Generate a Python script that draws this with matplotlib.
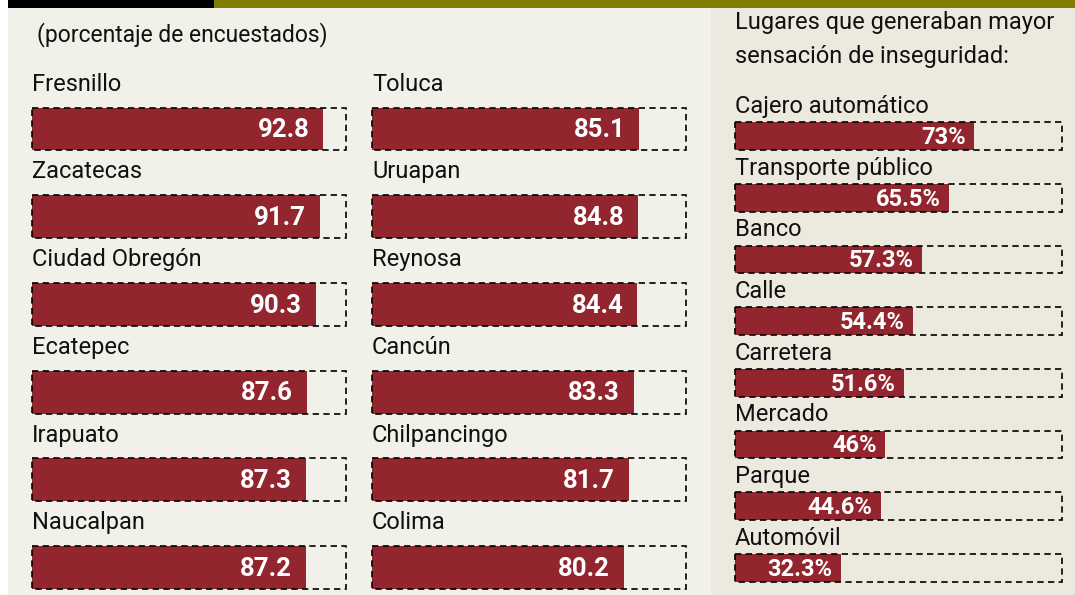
import matplotlib.pyplot as plt
import numpy as np
from matplotlib.patches import Rectangle
from matplotlib.colors import LinearSegmentedColormap

ciudades_izq = ["Fresnillo", "Zacatecas", "Ciudad Obregón", "Ecatepec", "Irapuato", "Naucalpan"]
valores_izq = [92.8, 91.7, 90.3, 87.6, 87.3, 87.2]
ciudades_der = ["Toluca", "Uruapan", "Reynosa", "Cancún", "Chilpancingo", "Colima"]
valores_der = [85.1, 84.8, 84.4, 83.3, 81.7, 80.2]
lugares = ["Cajero automático", "Transporte público", "Banco", "Calle",
           "Carretera", "Mercado", "Parque", "Automóvil"]
porcentajes = [73, 65.5, 57.3, 54.4, 51.6, 46, 44.6, 32.3]

W, H = 1075, 595
ROJO = "#93252F"
FONT = ["Roboto", "DejaVu Sans"]

fig = plt.figure(figsize=(W / 100, H / 100), dpi=100)
fig.patch.set_facecolor("white")

# fondo, franjas y sombra del panel derecho
bg = fig.add_axes([0, 0, 1, 1], zorder=-5)
bg.set_xlim(0, W)
bg.set_ylim(H, 0)
bg.axis("off")
bg.add_patch(Rectangle((8, 0), 703, H, color="#F2F1E9", lw=0))
bg.add_patch(Rectangle((711, 0), W - 711, H, color="#ECEADE", lw=0))
sombra = LinearSegmentedColormap.from_list("sombra", ["#A9A697", "#D8D5C8", "#ECEADE"])
bg.imshow(np.linspace(0, 1, 64)[None, :], cmap=sombra, extent=[711, 728, H, 0], aspect="auto")
bg.add_patch(Rectangle((8, 0), 206, 7.5, color="black", lw=0))
bg.add_patch(Rectangle((214, 0), W - 214, 7.5, color="#827E00", lw=0))

bg.text(37, 35, "(porcentaje de encuestados)", fontsize=16.5, family=FONT,
        va="center", ha="left", color="#111111")
bg.text(735, 22, "Lugares que generaban mayor", fontsize=17, family=FONT,
        va="center", ha="left", color="#111111")
bg.text(735, 57, "sensación de inseguridad:", fontsize=17, family=FONT,
        va="center", ha="left", color="#111111")


def columna(nombres, valores, x0, x1, y_first, step, alto, lab_off, ytop, ybot,
            fmt, num_size, pad):
    top_px = y_first + ytop * step
    bot_px = y_first + ybot * step
    ax = fig.add_axes([x0 / W, 1 - bot_px / H, (x1 - x0) / W, (bot_px - top_px) / H])
    ax.set_xlim(0, 100)
    ax.set_ylim(ybot, ytop)
    ax.axis("off")
    pos = np.arange(len(nombres))
    ax.barh(pos, valores, height=alto, color=ROJO, lw=0)
    for i, (n, v) in enumerate(zip(nombres, valores)):
        ax.add_patch(Rectangle((0, i - alto / 2), 100, alto, fill=False,
                               edgecolor="black", lw=1.2, linestyle=(0, (3.8, 2.6)),
                               clip_on=False, zorder=3))
        ax.text(0, i + lab_off, n, fontsize=17, family=FONT, va="center",
                ha="left", color="#111111")
        ax.annotate(fmt(v), (v, i), xytext=(-pad, -1), textcoords="offset points",
                    ha="right", va="center", color="white", fontweight="bold",
                    fontsize=num_size, family=FONT, zorder=4)
    return ax


columna(ciudades_izq, valores_izq, 32, 346, 129, 87.7, 0.49, -0.51, -1.0, 5.5,
        lambda v: f"{v:.1f}", 18.5, 10)
columna(ciudades_der, valores_der, 372, 686, 129, 87.7, 0.49, -0.51, -1.0, 5.5,
        lambda v: f"{v:.1f}", 18.5, 10)
columna(lugares, porcentajes, 735, 1062, 136, 61.7, 0.45, -0.48, -1.2, 7.5,
        lambda v: f"{v:g}%", 17, 6)

fig.savefig("out.png", dpi=100)
